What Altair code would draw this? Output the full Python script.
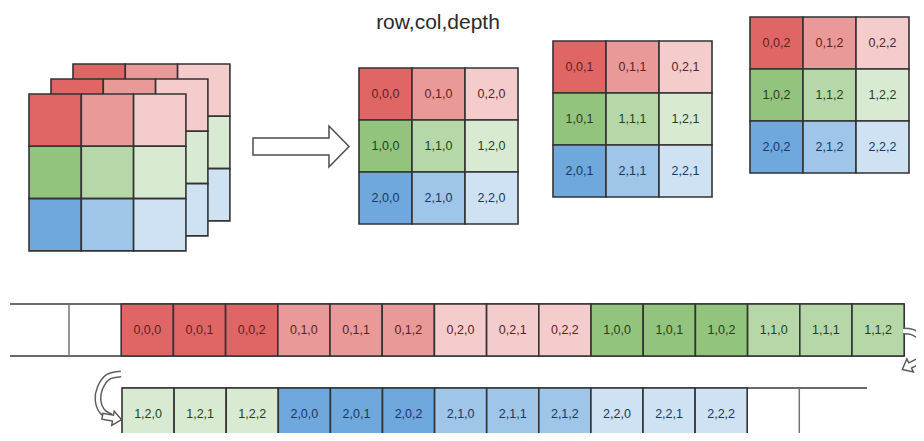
import altair as alt
import pandas as pd

# ---------------- content ----------------
TITLE = "row,col,depth"
ROWS = [0, 1, 2]
COLS = [0, 1, 2]
DEPTHS = [0, 1, 2]
ROW_FILLS = [
    ["#e06666", "#ea9999", "#f4cccc"],
    ["#93c47d", "#b6d7a8", "#d9ead3"],
    ["#6fa8dc", "#9fc5e8", "#cfe2f3"],
]
ROW_TEXT = ["#5e2121", "#243f1a", "#183763"]
STRIP_SPLIT = 15          # cells in the first strip row
STRIP1_LEAD_EMPTY = 1     # empty cells before the first strip row
STRIP2_TRAIL_EMPTY = 2    # empty cells after the second strip row

# ---------------- layout (page pixels) ----------------
PAGE_W, PAGE_H, MARGIN = 924, 441, 8
W, H = PAGE_W - 2 * MARGIN, PAGE_H - 2 * MARGIN
CUBE_X0, CUBE_Y0, CUBE_CELL = 29, 94, 52.3
CUBE_DX, CUBE_DY = 22, -15
GRID_X0 = [359, 553, 750]
GRID_Y0 = [68, 41, 17]
GRID_CW, GRID_CH = 53, 52
S1_TOP, S1_BOT, S1_LINE_X0, S1_V0, S1_STEP = 304, 356, 10, 69, 52.2
S2_TOP, S2_BOT, S2_V0, S2_STEP, S2_LINE_X1 = 388, 440, 122, 52.1, 867
TITLE_X, TITLE_Y = 438, 29
BIG_ARROW_X, BIG_ARROW_Y, BIG_ARROW_LEN = 301, 146.5, 96
BIG_ARROW_PATH = ("M -1 -0.177 L 0.583 -0.177 L 0.583 -0.427 L 1 0 "
                  "L 0.583 0.427 L 0.583 0.177 L -1 0.177 Z")
HEAD_PATH = ("M -1 0 L -0.1 -0.75 L -0.1 -0.3 L 1 -0.3 L 1 0.3 "
             "L -0.1 0.3 L -0.1 0.75 Z")
LEFT_CURVE_X = [121, 108, 100, 98, 102, 111]
LEFT_CURVE_Y = [374, 377, 388, 400, 411, 417]
RIGHT_CURVE_X = [903, 912, 919, 926, 926]
RIGHT_CURVE_Y = [331, 332, 336, 346, 356]
HEADS_X = [112, 911]
HEADS_Y = [418, 365]
HEADS_ANGLE = [190, 333]

# ---------------- build tables ----------------
rects, texts = [], []
for d in reversed(DEPTHS):
    ox = CUBE_X0 + CUBE_DX * d
    oy = CUBE_Y0 + CUBE_DY * d
    for r in ROWS:
        for c in COLS:
            rects.append(dict(x=ox + c * CUBE_CELL, x2=ox + (c + 1) * CUBE_CELL,
                              y=oy + r * CUBE_CELL, y2=oy + (r + 1) * CUBE_CELL,
                              fill=ROW_FILLS[r][c]))
for d in DEPTHS:
    for r in ROWS:
        for c in COLS:
            x0 = GRID_X0[d] + c * GRID_CW
            y0 = GRID_Y0[d] + r * GRID_CH
            rects.append(dict(x=x0, x2=x0 + GRID_CW, y=y0, y2=y0 + GRID_CH,
                              fill=ROW_FILLS[r][c]))
            texts.append(dict(x=x0 + GRID_CW / 2, y=y0 + GRID_CH / 2,
                              label=f"{r},{c},{d}", color=ROW_TEXT[r]))
seq = [(r, c, d) for r in ROWS for c in COLS for d in DEPTHS]
for i, (r, c, d) in enumerate(seq):
    if i < STRIP_SPLIT:
        x0 = S1_V0 + (STRIP1_LEAD_EMPTY + i) * S1_STEP
        y0, y1, step = S1_TOP, S1_BOT, S1_STEP
    else:
        x0 = S2_V0 + (i - STRIP_SPLIT) * S2_STEP
        y0, y1, step = S2_TOP, S2_BOT, S2_STEP
    rects.append(dict(x=x0, x2=x0 + step, y=y0, y2=y1, fill=ROW_FILLS[r][c]))
    texts.append(dict(x=x0 + step / 2, y=(y0 + y1) / 2, label=f"{r},{c},{d}",
                      color=ROW_TEXT[r]))
n2 = len(seq) - STRIP_SPLIT
hlines = pd.DataFrame([
    dict(x=S1_LINE_X0, x2=S1_V0 + (STRIP1_LEAD_EMPTY + STRIP_SPLIT) * S1_STEP, y=S1_TOP),
    dict(x=S1_LINE_X0, x2=S1_V0 + (STRIP1_LEAD_EMPTY + STRIP_SPLIT) * S1_STEP, y=S1_BOT),
    dict(x=S2_V0, x2=S2_LINE_X1, y=S2_TOP),
    dict(x=S2_V0, x2=S2_LINE_X1, y=S2_BOT),
])
vlines = pd.DataFrame(
    [dict(x=S1_V0 + k * S1_STEP, y=S1_TOP, y2=S1_BOT) for k in range(STRIP1_LEAD_EMPTY)]
    + [dict(x=S2_V0 + (n2 + k) * S2_STEP, y=S2_TOP, y2=S2_BOT)
       for k in range(1, STRIP2_TRAIL_EMPTY)]
)
curves = pd.DataFrame(
    [dict(g="L", o=i, x=x, y=y) for i, (x, y) in enumerate(zip(LEFT_CURVE_X, LEFT_CURVE_Y))]
    + [dict(g="R", o=i, x=x, y=y) for i, (x, y) in enumerate(zip(RIGHT_CURVE_X, RIGHT_CURVE_Y))]
)
heads = pd.DataFrame(dict(x=HEADS_X, y=HEADS_Y, a=HEADS_ANGLE))
rects = pd.DataFrame(rects)
texts = pd.DataFrame(texts)

XS = alt.Scale(domain=[MARGIN, MARGIN + W], nice=False, zero=False)
YS = alt.Scale(domain=[MARGIN, MARGIN + H], nice=False, zero=False, reverse=True)
X = alt.X("x:Q", scale=XS, axis=None)
Y = alt.Y("y:Q", scale=YS, axis=None)

line_layer = alt.Chart(hlines).mark_rule(color="#6a6a6a", strokeWidth=2).encode(
    x=X, x2="x2:Q", y=Y)
vline_layer = alt.Chart(vlines).mark_rule(color="#737373", strokeWidth=1.5).encode(
    x=X, y=Y, y2="y2:Q")
rect_layer = alt.Chart(rects).mark_rect(stroke="#333333", strokeWidth=1.6).encode(
    x=X, x2="x2:Q", y=Y, y2="y2:Q", fill=alt.Fill("fill:N", scale=None))
text_layer = alt.Chart(texts).mark_text(
    font="Liberation Sans", fontSize=12.5, baseline="middle", align="center"
).encode(x=X, y=Y, text="label:N", color=alt.Color("color:N", scale=None))
title_layer = alt.Chart(pd.DataFrame(dict(x=[TITLE_X], y=[TITLE_Y], t=[TITLE]))).mark_text(
    font="Liberation Sans", fontSize=21, baseline="alphabetic", align="center", color="#2b2b2b"
).encode(x=X, y=Y, text="t:N")
big_arrow = alt.Chart(pd.DataFrame(dict(x=[BIG_ARROW_X], y=[BIG_ARROW_Y]))).mark_point(
    shape=BIG_ARROW_PATH, size=BIG_ARROW_LEN ** 2, filled=True, fill="white",
    stroke="#4d4d4d", strokeWidth=1.5, opacity=1
).encode(x=X, y=Y)
curve_outer = alt.Chart(curves).mark_line(
    interpolate="catmull-rom", color="#5f5f5f", strokeWidth=7, strokeCap="butt"
).encode(x=X, y=Y, order="o:Q", detail="g:N")
curve_inner = alt.Chart(curves).mark_line(
    interpolate="catmull-rom", color="#ffffff", strokeWidth=4, strokeCap="butt"
).encode(x=X, y=Y, order="o:Q", detail="g:N")
head_layer = alt.Chart(heads).mark_point(
    shape=HEAD_PATH, size=380, filled=True, fill="white", stroke="#555555",
    strokeWidth=1.4, opacity=1
).encode(x=X, y=Y, angle=alt.Angle("a:Q", scale=None))

chart = alt.layer(
    line_layer, vline_layer, rect_layer, text_layer, title_layer,
    big_arrow, curve_outer, curve_inner, head_layer
).properties(
    width=W, height=H, padding=0, background="white",
    autosize=alt.AutoSizeParams(type="none")
).configure_view(stroke=None)

chart.save("out.html", embed_options={"renderer": "svg", "actions": False})
